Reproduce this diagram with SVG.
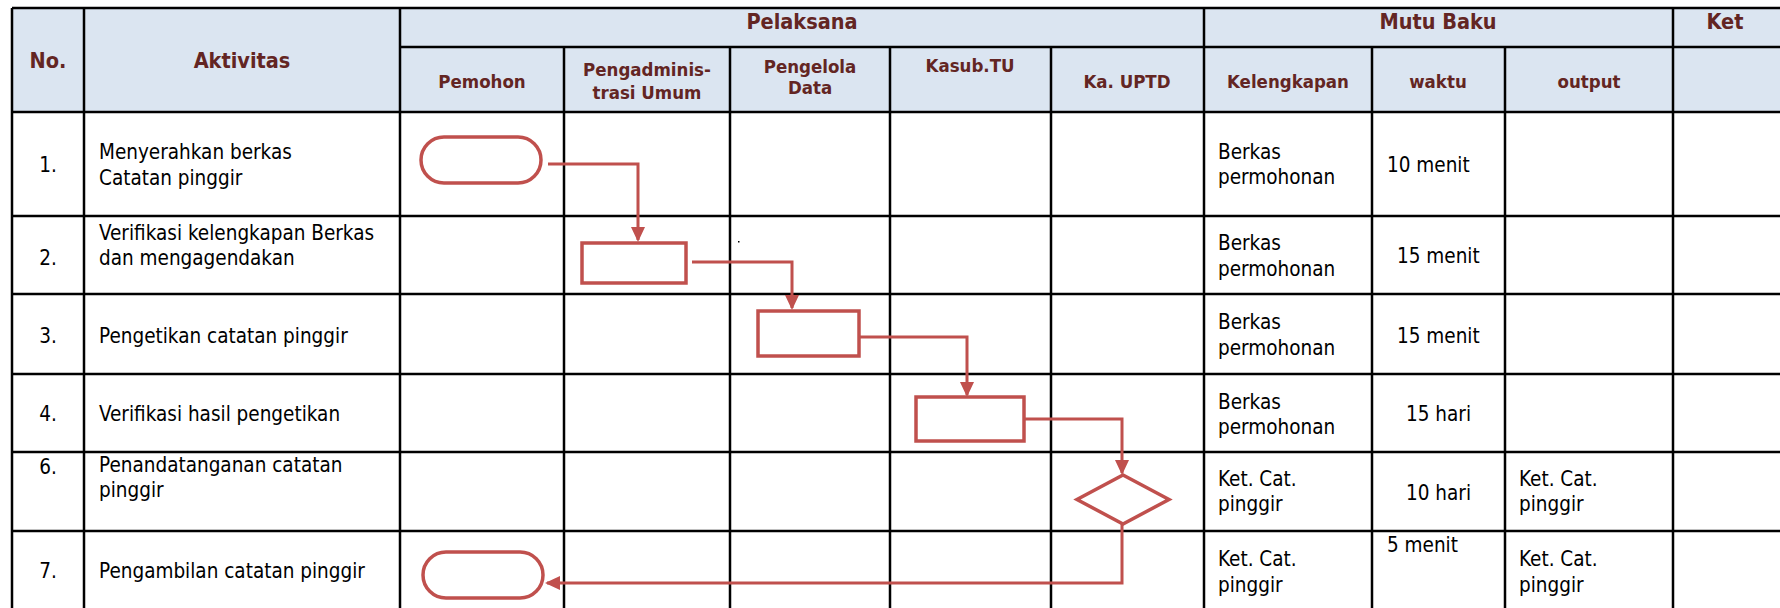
<svg xmlns="http://www.w3.org/2000/svg" width="1780" height="608" viewBox="0 0 1780 608">
<style>
.grid{stroke:#000;stroke-width:2.5;fill:none}
.hd{font-family:'DejaVu Sans Condensed','DejaVu Sans',sans-serif;font-stretch:condensed;font-weight:bold;font-size:18.5px;fill:#632523;text-anchor:middle}
.hm{font-size:21.5px}
.tx{font-family:'DejaVu Sans Condensed','DejaVu Sans',sans-serif;font-stretch:condensed;font-size:20.5px;fill:#000}
.c{text-anchor:middle}
.shape{fill:#fff;stroke:#c0504d;stroke-width:3.5}
.conn{fill:none;stroke:#c0504d;stroke-width:3}
</style>
<defs>
<marker id="arr" markerUnits="userSpaceOnUse" markerWidth="16" markerHeight="16" refX="13" refY="7" orient="auto">
<path d="M0,0 L15,7 L0,14 z" fill="#c0504d"/>
</marker>
</defs>
<rect x="0" y="0" width="1780" height="608" fill="#fff"/>
<rect x="12" y="8" width="1768" height="104" fill="#dbe5f1"/>
<g id="grid" class="grid">
<line x1="12" y1="8" x2="1780" y2="8"/>
<line x1="400" y1="47" x2="1780" y2="47"/>
<line x1="12" y1="112" x2="1780" y2="112"/>
<line x1="12" y1="216" x2="1780" y2="216"/>
<line x1="12" y1="294" x2="1780" y2="294"/>
<line x1="12" y1="374" x2="1780" y2="374"/>
<line x1="12" y1="452" x2="1780" y2="452"/>
<line x1="12" y1="531" x2="1780" y2="531"/>
<line x1="12" y1="8" x2="12" y2="608"/>
<line x1="84" y1="8" x2="84" y2="608"/>
<line x1="400" y1="8" x2="400" y2="608"/>
<line x1="564" y1="47" x2="564" y2="608"/>
<line x1="730" y1="47" x2="730" y2="608"/>
<line x1="890" y1="47" x2="890" y2="608"/>
<line x1="1051" y1="47" x2="1051" y2="608"/>
<line x1="1204" y1="8" x2="1204" y2="608"/>
<line x1="1372" y1="47" x2="1372" y2="608"/>
<line x1="1505" y1="47" x2="1505" y2="608"/>
<line x1="1673" y1="8" x2="1673" y2="608"/>
</g>
<g id="header">
<text class="hd hm" x="48" y="68">No.</text>
<text class="hd hm" x="242" y="68">Aktivitas</text>
<text class="hd hm" x="802" y="29">Pelaksana</text>
<text class="hd hm" x="1438" y="29">Mutu Baku</text>
<text class="hd hm" x="1725" y="29">Ket</text>
<text class="hd" x="482" y="88">Pemohon</text>
<text class="hd" x="647" y="76">Pengadminis-</text>
<text class="hd" x="647" y="99">trasi Umum</text>
<text class="hd" x="810" y="73">Pengelola</text>
<text class="hd" x="810" y="94">Data</text>
<text class="hd" x="970" y="72">Kasub.TU</text>
<text class="hd" x="1127" y="88">Ka. UPTD</text>
<text class="hd" x="1288" y="88">Kelengkapan</text>
<text class="hd" x="1438" y="88">waktu</text>
<text class="hd" x="1589" y="88">output</text>
</g>
<g id="rows">
<text class="tx c" x="48" y="172">1.</text>
<text class="tx" x="99" y="159">Menyerahkan berkas</text>
<text class="tx" x="99" y="185">Catatan pinggir</text>
<text class="tx" x="1218" y="159">Berkas</text>
<text class="tx" x="1218" y="184">permohonan</text>
<text class="tx" x="1387" y="172">10 menit</text>

<text class="tx c" x="48" y="265">2.</text>
<text class="tx" x="99" y="240">Verifikasi kelengkapan Berkas</text>
<text class="tx" x="99" y="265">dan mengagendakan</text>
<text class="tx" x="1218" y="250">Berkas</text>
<text class="tx" x="1218" y="276">permohonan</text>
<text class="tx" x="1397" y="263">15 menit</text>

<text class="tx c" x="48" y="343">3.</text>
<text class="tx" x="99" y="343">Pengetikan catatan pinggir</text>
<text class="tx" x="1218" y="329">Berkas</text>
<text class="tx" x="1218" y="355">permohonan</text>
<text class="tx" x="1397" y="343">15 menit</text>

<text class="tx c" x="48" y="421">4.</text>
<text class="tx" x="99" y="421">Verifikasi hasil pengetikan</text>
<text class="tx" x="1218" y="409">Berkas</text>
<text class="tx" x="1218" y="434">permohonan</text>
<text class="tx" x="1406" y="421">15 hari</text>

<text class="tx c" x="48" y="474">6.</text>
<text class="tx" x="99" y="472">Penandatanganan catatan</text>
<text class="tx" x="99" y="497">pinggir</text>
<text class="tx" x="1218" y="486">Ket. Cat.</text>
<text class="tx" x="1218" y="511">pinggir</text>
<text class="tx" x="1406" y="500">10 hari</text>
<text class="tx" x="1519" y="486">Ket. Cat.</text>
<text class="tx" x="1519" y="511">pinggir</text>

<text class="tx c" x="48" y="578">7.</text>
<text class="tx" x="99" y="578">Pengambilan catatan pinggir</text>
<text class="tx" x="1218" y="566">Ket. Cat.</text>
<text class="tx" x="1218" y="592">pinggir</text>
<text class="tx" x="1387" y="552">5 menit</text>
<text class="tx" x="1519" y="566">Ket. Cat.</text>
<text class="tx" x="1519" y="592">pinggir</text>
</g>
<g id="connectors">
<path class="conn" d="M548 164 H638 V240" marker-end="url(#arr)"/>
<path class="conn" d="M692 262 H792 V308" marker-end="url(#arr)"/>
<path class="conn" d="M859 337 H967 V395" marker-end="url(#arr)"/>
<path class="conn" d="M1024 419 H1122 V473" marker-end="url(#arr)"/>
<path class="conn" d="M1122 524 V583 H547" marker-end="url(#arr)"/>
</g>
<g id="start-pemohon"><rect class="shape" x="421" y="137" width="120" height="46" rx="23"/></g>
<g id="verifikasi-berkas"><rect class="shape" x="582" y="243" width="104" height="40"/></g>
<g id="pengetikan"><rect class="shape" x="758" y="311" width="101" height="45"/></g>
<g id="verifikasi-hasil"><rect class="shape" x="916" y="397" width="108" height="44"/></g>
<g id="penandatanganan"><polygon class="shape" points="1123,475 1169,499.5 1123,524 1077,499.5"/></g>
<g id="end-pemohon"><rect class="shape" x="423" y="552" width="120" height="46" rx="23"/></g>
<rect x="738" y="241" width="1.5" height="1.5" fill="#000"/>
</svg>
